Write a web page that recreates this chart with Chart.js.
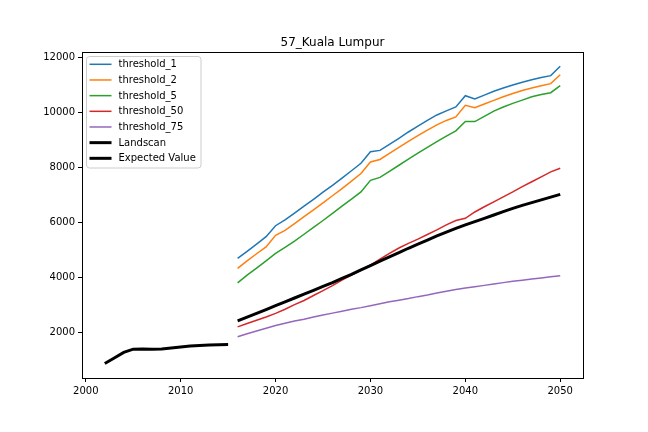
<!DOCTYPE html>
<html>
<head>
<meta charset="utf-8">
<script src="https://cdn.jsdelivr.net/npm/chart.js@4.4.1/dist/chart.umd.min.js"></script>
<style>
  html, body { margin: 0; padding: 0; background: #fff; }
  #chart { display: block; }
</style>
</head>
<body>
<canvas id="chart" width="648" height="432"></canvas>
<script>
// ---- data ----
const landscanYears = [2002, 2003, 2004, 2005, 2006, 2007, 2008, 2009, 2010, 2011, 2012, 2013, 2014, 2015];
const landscan = [860, 1060, 1260, 1380, 1385, 1380, 1385, 1420, 1460, 1490, 1510, 1530, 1540, 1550];

const projYears = [2016, 2017, 2018, 2019, 2020, 2021, 2022, 2023, 2024, 2025, 2026, 2027, 2028, 2029, 2030, 2031, 2032, 2033,
                   2034, 2035, 2036, 2037, 2038, 2039, 2040, 2041, 2042, 2043, 2044, 2045, 2046, 2047, 2048, 2049, 2050];

const threshold1 = [4680, 4940, 5200, 5470, 5870, 6080, 6330, 6580, 6830, 7090, 7340, 7600, 7870, 8140, 8560, 8610, 8830, 9050,
                    9280, 9490, 9700, 9900, 10050, 10190, 10600, 10480, 10620, 10760, 10880, 10990, 11090, 11180, 11260, 11330, 11670];
const threshold2 = [4320, 4590, 4850, 5100, 5520, 5700, 5950, 6200, 6450, 6700, 6960, 7220, 7490, 7770, 8190, 8280, 8500, 8720,
                    8940, 9150, 9350, 9540, 9700, 9830, 10250, 10160, 10300, 10430, 10560, 10680, 10790, 10880, 10960, 11040, 11360];
const threshold5 = [3790, 4070, 4330, 4590, 4860, 5080, 5310, 5560, 5810, 6060, 6320, 6580, 6840, 7100, 7520, 7630, 7850, 8070,
                    8290, 8510, 8720, 8930, 9130, 9320, 9660, 9660, 9850, 10040, 10190, 10320, 10440, 10560, 10640, 10710, 10970];
const threshold50 = [2190, 2310, 2430, 2550, 2680, 2830, 3000, 3150, 3330, 3510, 3690, 3890, 4070, 4250, 4440, 4650, 4860, 5060,
                     5230, 5380, 5550, 5720, 5900, 6060, 6140, 6370, 6560, 6740, 6920, 7100, 7290, 7470, 7650, 7830, 7960];
const threshold75 = [1830, 1940, 2040, 2140, 2240, 2320, 2400, 2470, 2550, 2620, 2690, 2760, 2830, 2890, 2960, 3030, 3100, 3160,
                     3220, 3290, 3350, 3420, 3490, 3550, 3600, 3650, 3700, 3750, 3800, 3850, 3890, 3930, 3970, 4010, 4050];
const expectedValue = [2410, 2545, 2680, 2820, 2960, 3100, 3240, 3380, 3520, 3660, 3800, 3950, 4100, 4260, 4420, 4580, 4740, 4890,
                       5050, 5200, 5350, 5500, 5640, 5770, 5900, 6020, 6140, 6260, 6380, 6500, 6610, 6710, 6810, 6910, 7010];

const xTicks = [2000, 2010, 2020, 2030, 2040, 2050];
const yTicks = [2000, 4000, 6000, 8000, 10000, 12000];
const chartTitle = '57_Kuala Lumpur';

const FONT = 'DejaVu Sans';

function pts(xs, ys) {
    return xs.map((x, i) => ({ x: x, y: ys[i] }));
}

const series = [
    { label: 'threshold_1', years: projYears, values: threshold1, color: '#1f77b4', width: 1.5 },
    { label: 'threshold_2', years: projYears, values: threshold2, color: '#ff7f0e', width: 1.5 },
    { label: 'threshold_5', years: projYears, values: threshold5, color: '#2ca02c', width: 1.5 },
    { label: 'threshold_50', years: projYears, values: threshold50, color: '#d62728', width: 1.5 },
    { label: 'threshold_75', years: projYears, values: threshold75, color: '#9467bd', width: 1.5 },
    { label: 'Landscan', years: landscanYears, values: landscan, color: '#000000', width: 3 },
    { label: 'Expected Value', years: projYears, values: expectedValue, color: '#000000', width: 3 }
];

// ---- title, frame and legend drawn like matplotlib ----
const mplDecor = {
    id: 'mplDecor',
    afterDraw(chart) {
        const ctx = chart.ctx;
        const a = chart.chartArea;
        ctx.save();

        // frame (all four spines)
        ctx.strokeStyle = '#000';
        ctx.lineWidth = 1;
        ctx.strokeRect(Math.round(a.left) + 0.5, Math.round(a.top) + 0.5,
                       Math.round(a.right - a.left), Math.round(a.bottom - a.top));

        // title
        ctx.fillStyle = '#000';
        ctx.font = '12px "' + FONT + '"';
        ctx.textAlign = 'center';
        ctx.textBaseline = 'alphabetic';
        ctx.fillText(chartTitle, (a.left + a.right) / 2, a.top - 6.5);

        // legend
        const bx = a.left + 4.5, by = a.top + 4.5, bw = 114.5, bh = 111.5;
        ctx.beginPath();
        if (ctx.roundRect) ctx.roundRect(bx, by, bw, bh, 3); else ctx.rect(bx, by, bw, bh);
        ctx.fillStyle = 'rgba(255,255,255,0.8)';
        ctx.fill();
        ctx.strokeStyle = '#cccccc';
        ctx.lineWidth = 1;
        ctx.stroke();

        ctx.font = '10px "' + FONT + '"';
        ctx.textAlign = 'left';
        ctx.textBaseline = 'middle';
        chart.data.datasets.forEach((ds, i) => {
            const cy = by + 7.8 + i * 15.67;
            ctx.beginPath();
            ctx.strokeStyle = ds.borderColor;
            ctx.lineWidth = ds.borderWidth;
            ctx.moveTo(bx + 3, cy);
            ctx.lineTo(bx + 25, cy);
            ctx.stroke();
            ctx.fillStyle = '#000';
            ctx.fillText(ds.label, bx + 32, cy + 0.5);
        });

        ctx.restore();
    }
};

const ctx = document.getElementById('chart').getContext('2d');
new Chart(ctx, {
    type: 'line',
    data: {
        datasets: series.map((s, i) => ({
            label: s.label,
            data: pts(s.years, s.values),
            borderColor: s.color,
            backgroundColor: s.color,
            borderWidth: s.width,
            pointRadius: 0,
            pointHoverRadius: 0,
            tension: 0,
            fill: false,
            order: series.length - i
        }))
    },
    options: {
        responsive: false,
        animation: false,
        devicePixelRatio: 1,
        layout: { padding: { top: 52, right: 65, left: 0, bottom: 0 } },
        plugins: {
            legend: { display: false },
            title: { display: false },
            tooltip: { enabled: false }
        },
        scales: {
            x: {
                type: 'linear',
                min: 1999.6,
                max: 2052.4,
                afterFit: s => { s.height = 54; },
                afterBuildTicks: s => { s.ticks = xTicks.map(v => ({ value: v })); },
                grid: { display: true, drawOnChartArea: false, drawTicks: true, tickLength: 4, color: '#000', lineWidth: 1 },
                border: { display: false },
                ticks: {
                    color: '#000',
                    padding: 3,
                    maxRotation: 0,
                    font: { family: FONT, size: 10 },
                    callback: v => String(v)
                }
            },
            y: {
                min: 330,
                max: 12190,
                afterFit: s => { s.width = 82; },
                afterBuildTicks: s => { s.ticks = yTicks.map(v => ({ value: v })); },
                grid: { display: true, drawOnChartArea: false, drawTicks: true, tickLength: 4, color: '#000', lineWidth: 1 },
                border: { display: false },
                ticks: {
                    color: '#000',
                    padding: 3,
                    font: { family: FONT, size: 10 },
                    callback: v => String(v)
                }
            }
        }
    },
    plugins: [mplDecor]
});
</script>
</body>
</html>
